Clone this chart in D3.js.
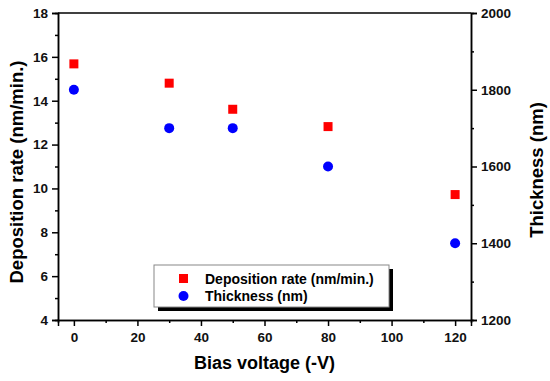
<!DOCTYPE html>
<html>
<head>
<meta charset="utf-8">
<script src="https://cdn.jsdelivr.net/npm/d3@7"></script>
<style>
  body { margin: 0; background: #fff; }
  text { font-family: "Liberation Sans", Arial, sans-serif; font-weight: bold; }
</style>
</head>
<body>
<div id="chart"></div>
<script>
// data
var bias = [0, 30, 50, 80, 120]
var depRate = [15.68, 14.8, 13.61, 12.82, 9.72]
var thickness = [1800, 1700, 1700, 1600, 1400]

var xTicks = [0, 20, 40, 60, 80, 100, 120]
var leftTicks = [4, 6, 8, 10, 12, 14, 16, 18]
var rightTicks = [1200, 1400, 1600, 1800, 2000]

var width = 550, height = 381
var margin = {top: 13, right: 79, bottom: 61, left: 58}

var svg = d3.select("#chart").append("svg")
    .attr("width", width)
    .attr("height", height)

var x = d3.scaleLinear().domain([-5, 125]).range([margin.left, width - margin.right])
var yL = d3.scaleLinear().domain([4, 18]).range([height - margin.bottom, margin.top])
var yR = d3.scaleLinear().domain([1200, 2000]).range([height - margin.bottom, margin.top])

// axes
var xAxis = d3.axisBottom(x).tickValues(xTicks).tickSize(6).tickPadding(6)
var xMinor = d3.axisBottom(x).tickValues(d3.range(10, 120, 20)).tickSize(3).tickFormat("")
svg.append("g").attr("transform", `translate(0,${height - margin.bottom})`).call(xMinor)
svg.append("g").attr("transform", `translate(0,${height - margin.bottom})`).call(xAxis)

var lAxis = d3.axisLeft(yL).tickValues(leftTicks).tickSize(6).tickPadding(4)
var lMinor = d3.axisLeft(yL).tickValues(d3.range(5, 18, 2)).tickSize(3).tickFormat("")
svg.append("g").attr("transform", `translate(${margin.left},0)`).call(lMinor)
svg.append("g").attr("transform", `translate(${margin.left},0)`).call(lAxis)

var rAxis = d3.axisRight(yR).tickValues(rightTicks).tickSize(6).tickPadding(4).tickFormat(d3.format("d"))
var rMinor = d3.axisRight(yR).tickValues(d3.range(1300, 2000, 200)).tickSize(3).tickFormat("")
svg.append("g").attr("transform", `translate(${width - margin.right},0)`).call(rMinor)
svg.append("g").attr("transform", `translate(${width - margin.right},0)`).call(rAxis)

// top border
svg.append("line")
    .attr("x1", margin.left).attr("x2", width - margin.right)
    .attr("y1", margin.top).attr("y2", margin.top)
    .attr("stroke", "#000").attr("stroke-width", 1.5)

svg.selectAll(".domain").attr("stroke-width", 1.5)
svg.selectAll(".tick line").attr("stroke-width", 1.5)
svg.selectAll(".tick text").attr("font-size", 13.5).attr("fill", "#111")

// axis titles
svg.append("text")
    .attr("x", x(60)).attr("y", 369)
    .attr("text-anchor", "middle").attr("font-size", 18)
    .text("Bias voltage (-V)")

svg.append("text")
    .attr("transform", `translate(23,172) rotate(-90)`)
    .attr("text-anchor", "middle").attr("font-size", 18.5)
    .text("Deposition rate (nm/min.)")

svg.append("text")
    .attr("transform", `translate(543,170) rotate(-90)`)
    .attr("text-anchor", "middle").attr("font-size", 18.5)
    .text("Thickness (nm)")

// markers
svg.selectAll(".sq").data(bias).join("rect")
    .attr("x", (d, i) => x(d) - 4.5)
    .attr("y", (d, i) => yL(depRate[i]) - 4.5)
    .attr("width", 9).attr("height", 9)
    .attr("fill", "#ff0000")

svg.selectAll(".dot").data(bias).join("circle")
    .attr("cx", d => x(d))
    .attr("cy", (d, i) => yR(thickness[i]))
    .attr("r", 5)
    .attr("fill", "#0000ff")

// legend with shadow
var lg = svg.append("g")
lg.append("rect").attr("x", 158).attr("y", 269).attr("width", 235).attr("height", 42).attr("fill", "#000")
lg.append("rect").attr("x", 154).attr("y", 265).attr("width", 235).attr("height", 42)
    .attr("fill", "#fff").attr("stroke", "#888").attr("stroke-width", 1)
lg.append("rect").attr("x", 179).attr("y", 274).attr("width", 9).attr("height", 9).attr("fill", "#ff0000")
lg.append("circle").attr("cx", 183.5).attr("cy", 296).attr("r", 5).attr("fill", "#0000ff")
lg.append("text").attr("x", 205).attr("y", 284).attr("font-size", 14).text("Deposition rate (nm/min.)")
lg.append("text").attr("x", 205).attr("y", 301).attr("font-size", 14).text("Thickness (nm)")
</script>
</body>
</html>
